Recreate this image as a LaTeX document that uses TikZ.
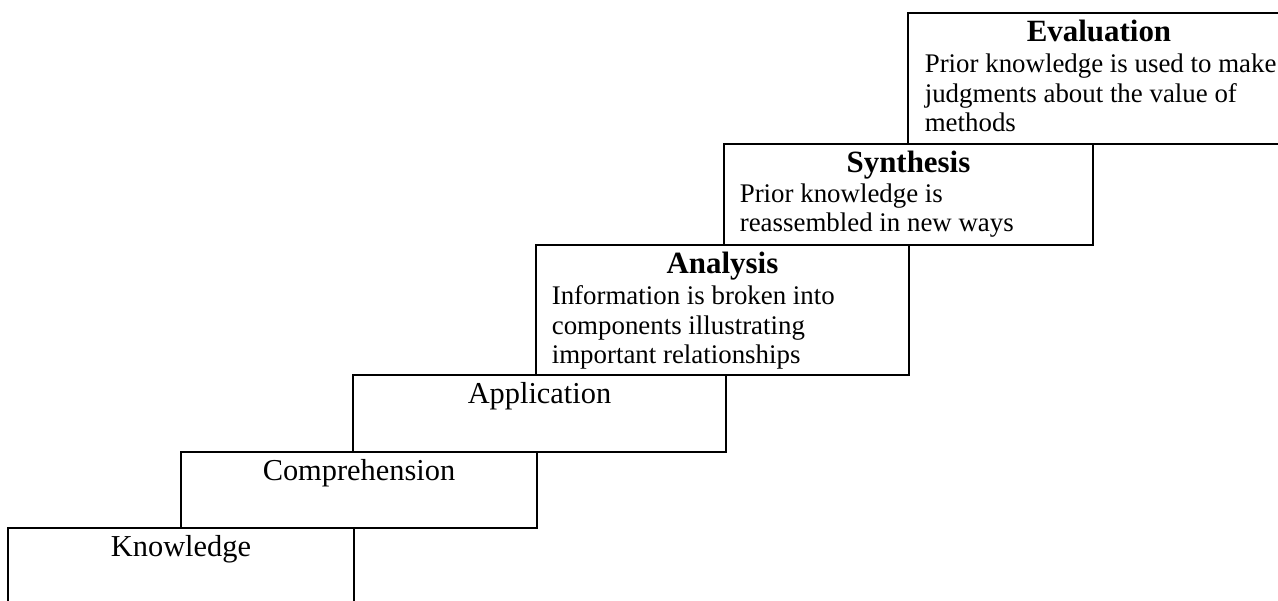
\documentclass[tikz,border=0pt]{standalone}
\usepackage{fontspec}
\setmainfont{Liberation Serif}
\usetikzlibrary{fit,calc}
\begin{document}
\begin{tikzpicture}[x=0.02cm,y=-0.02cm,
  stepbox/.style={draw=black,line width=0.6pt,inner sep=0pt},
  steptitle/.style={font=\fontsize{17.6}{20}\selectfont\bfseries,anchor=base,inner sep=0pt},
  stepname/.style={font=\fontsize{17.3}{20}\selectfont,anchor=base,inner sep=0pt},
  stepdesc/.style={font=\fontsize{15.3}{16.7}\selectfont,anchor=base west,align=left,inner sep=0pt}]
\useasboundingbox (0,0) rectangle (1278,600);
\clip (0,0) rectangle (1278,600);
% the six steps, lowest first
\foreach \n/\xa/\ya/\xb/\yb in {know/8/528/354/615,comp/181/452/537/528,appl/353/375/726/452,anal/536/245/909/375,synt/724/144/1093/245,eval/908/13/1290/144} {
  \node[stepbox,fit={(\xa,\ya) (\xb,\yb)}] (\n) {};
}
% plain steps
\node[stepname] (knowname) at ($(know.north)+(0,29)$) {Knowledge};
\node[stepname] (compname) at ($(comp.north)+(0,29)$) {Comprehension};
\node[stepname] (applname) at ($(appl.north)+(0,29)$) {Application};
% steps with a description (anchored at the last line)
\node[steptitle] (analname) at ($(anal.north)+(0,29)$) {Analysis};
\node[stepdesc] (analdesc) at ($(anal.north west)+(16,119)$) {Information is broken into\\components illustrating\\important relationships};
\node[steptitle] (syntname) at ($(synt.north)+(0,29)$) {Synthesis};
\node[stepdesc] (syntdesc) at ($(synt.north west)+(16,88)$) {Prior knowledge is\\reassembled in new ways};
\node[steptitle] (evalname) at ($(eval.north)+(0,29)$) {Evaluation};
\node[stepdesc] (evaldesc) at ($(eval.north west)+(17,119)$) {Prior knowledge is used to make\\judgments about the value of\\methods};
\end{tikzpicture}
\end{document}
